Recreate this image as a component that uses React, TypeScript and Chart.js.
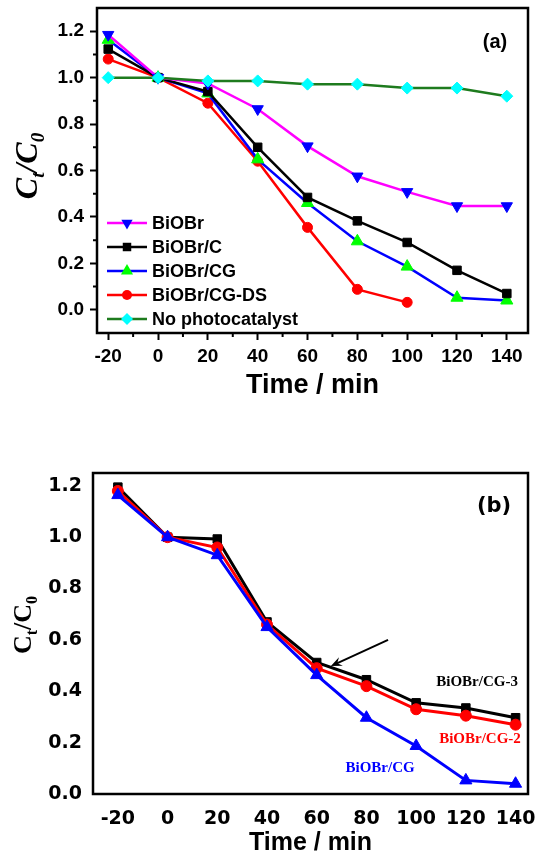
import React, { useEffect, useRef } from 'react';
import { Chart, registerables } from 'chart.js';

Chart.register(...registerables);

// ---------- Panel (a) data ----------
const timesA = [-20, 0, 20, 40, 60, 80, 100, 120, 140];
const timesDS = [-20, 0, 20, 40, 60, 80, 100];
const biobrA = [1.185, 1.0, 0.975, 0.865, 0.705, 0.575, 0.508, 0.447, 0.447];
const biobrCA = [1.123, 1.0, 0.94, 0.70, 0.484, 0.383, 0.29, 0.17, 0.07];
const biobrCGA = [1.163, 1.0, 0.932, 0.648, 0.46, 0.295, 0.186, 0.052, 0.04];
const biobrCGDSA = [1.08, 1.0, 0.89, 0.64, 0.355, 0.088, 0.032];
const noCatA = [1.0, 1.0, 0.986, 0.986, 0.972, 0.972, 0.955, 0.955, 0.92];
const labelsA = ['BiOBr', 'BiOBr/C', 'BiOBr/CG', 'BiOBr/CG-DS', 'No photocatalyst'];
const xTicksA = [-20, 0, 20, 40, 60, 80, 100, 120, 140];
const xMinorA = [-10, 10, 30, 50, 70, 90, 110, 130];
const yTicksA = [0, 0.2, 0.4, 0.6, 0.8, 1.0, 1.2];
const yMinorA = [0.1, 0.3, 0.5, 0.7, 0.9, 1.1];

// ---------- Panel (b) data ----------
const timesB = [-20, 0, 20, 40, 60, 80, 100, 120, 140];
const cg3B = [1.195, 1.0, 0.993, 0.67, 0.512, 0.445, 0.355, 0.335, 0.297];
const cg2B = [1.18, 1.0, 0.96, 0.66, 0.49, 0.42, 0.33, 0.305, 0.27];
const cgB = [1.164, 1.0, 0.93, 0.65, 0.463, 0.297, 0.187, 0.053, 0.04];
const labelsB = ['BiOBr/CG-3', 'BiOBr/CG-2', 'BiOBr/CG'];
const xTicksB = [-20, 0, 20, 40, 60, 80, 100, 120, 140];
const yTicksB = [0, 0.2, 0.4, 0.6, 0.8, 1.0, 1.2];

const SANS = '"Liberation Sans", Arial, sans-serif';
const DEJAVU = '"DejaVu Sans", sans-serif';
const SERIF = '"Liberation Serif", "Times New Roman", serif';

const pts = (xs: number[], ys: number[]) => ys.map((y, i) => ({ x: xs[i], y }));

function drawMarker(ctx: CanvasRenderingContext2D, style: string, x: number, y: number, r: number, fill: string, rot = 0) {
  ctx.save();
  ctx.fillStyle = fill;
  ctx.beginPath();
  if (style === 'circle') {
    ctx.arc(x, y, r, 0, Math.PI * 2);
  } else if (style === 'rect') {
    const s = r * Math.SQRT1_2;
    ctx.rect(x - s, y - s, 2 * s, 2 * s);
  } else if (style === 'rectRot') {
    ctx.moveTo(x - r, y);
    ctx.lineTo(x, y - r);
    ctx.lineTo(x + r, y);
    ctx.lineTo(x, y + r);
    ctx.closePath();
  } else if (style === 'triangle') {
    let a = (rot * Math.PI) / 180;
    ctx.moveTo(x + Math.sin(a) * r, y - Math.cos(a) * r);
    a += (2 * Math.PI) / 3;
    ctx.lineTo(x + Math.sin(a) * r, y - Math.cos(a) * r);
    a += (2 * Math.PI) / 3;
    ctx.lineTo(x + Math.sin(a) * r, y - Math.cos(a) * r);
    ctx.closePath();
  }
  ctx.fill();
  ctx.restore();
}

function drawSubTitle(
  ctx: CanvasRenderingContext2D,
  bx: number,
  cy: number,
  parts: { t: string; sub?: boolean }[],
  mainFont: string,
  subFont: string,
  subShift: number
) {
  ctx.save();
  ctx.translate(bx, cy);
  ctx.rotate(-Math.PI / 2);
  ctx.fillStyle = '#000';
  ctx.textBaseline = 'alphabetic';
  ctx.textAlign = 'left';
  let total = 0;
  const widths: number[] = [];
  for (const p of parts) {
    ctx.font = p.sub ? subFont : mainFont;
    const w = ctx.measureText(p.t).width;
    widths.push(w);
    total += w;
  }
  let x = -total / 2;
  parts.forEach((p, i) => {
    ctx.font = p.sub ? subFont : mainFont;
    ctx.fillText(p.t, x, p.sub ? subShift : 0);
    x += widths[i];
  });
  ctx.restore();
}

const fixY = (w: number) => (s: any) => {
  s.width = w;
  s.paddingTop = 0;
  s.paddingBottom = 0;
};
const fixX = (h: number) => (s: any) => {
  s.height = h;
  s.paddingLeft = 0;
  s.paddingRight = 0;
};

function makeChartA(canvas: HTMLCanvasElement) {
  const styles = [
    { line: '#ff00ff', marker: '#0000ff', style: 'triangle', rot: 180, r: 6.5 },
    { line: '#000000', marker: '#000000', style: 'rect', rot: 0, r: 6 },
    { line: '#0000ff', marker: '#00ff00', style: 'triangle', rot: 0, r: 7 },
    { line: '#ff0000', marker: '#ff0000', style: 'circle', rot: 0, r: 5 },
    { line: '#1e7b1e', marker: '#00ffff', style: 'rectRot', rot: 0, r: 6 },
  ];
  const series = [
    pts(timesA, biobrA),
    pts(timesA, biobrCA),
    pts(timesA, biobrCGA),
    pts(timesDS, biobrCGDSA),
    pts(timesA, noCatA),
  ];
  const orders = [1, 2, 3, 4, 0];
  const datasets = series.map((d, i) => ({
    label: labelsA[i],
    data: d,
    borderColor: styles[i].line,
    borderWidth: 2.5,
    pointStyle: styles[i].style,
    pointRotation: styles[i].rot,
    pointRadius: styles[i].r,
    pointBackgroundColor: styles[i].marker,
    pointBorderColor: styles[i].marker,
    pointBorderWidth: 1,
    tension: 0,
    order: orders[i],
    clip: false as any,
  }));

  const overlay = {
    id: 'overlayA',
    afterDraw(chart: any) {
      const { ctx, chartArea } = chart;
      const { left, top, right, bottom } = chartArea;
      const xs = chart.scales.x;
      const ys = chart.scales.y;
      ctx.save();
      // frame
      ctx.strokeStyle = '#000';
      ctx.lineWidth = 2.5;
      ctx.strokeRect(left, top, right - left, bottom - top);
      // minor ticks
      ctx.lineWidth = 2;
      ctx.beginPath();
      xMinorA.forEach((v) => {
        const px = xs.getPixelForValue(v);
        ctx.moveTo(px, bottom);
        ctx.lineTo(px, bottom + 4);
      });
      yMinorA.forEach((v) => {
        const py = ys.getPixelForValue(v);
        ctx.moveTo(left, py);
        ctx.lineTo(left - 4, py);
      });
      ctx.stroke();
      // legend
      ctx.font = `bold 18px ${SANS}`;
      ctx.textBaseline = 'middle';
      ctx.textAlign = 'left';
      labelsA.forEach((lab, i) => {
        const y = bottom - 14 - (labelsA.length - 1 - i) * 24;
        const x0 = left + 10;
        const x1 = left + 50;
        ctx.strokeStyle = styles[i].line;
        ctx.lineWidth = 2.5;
        ctx.beginPath();
        ctx.moveTo(x0, y);
        ctx.lineTo(x1, y);
        ctx.stroke();
        drawMarker(ctx, styles[i].style, (x0 + x1) / 2, y, styles[i].r, styles[i].marker, styles[i].rot);
        ctx.fillStyle = '#000';
        ctx.fillText(lab, x1 + 5, y + 1);
      });
      // panel label
      ctx.font = `bold 20px ${SANS}`;
      ctx.textAlign = 'center';
      ctx.fillStyle = '#000';
      ctx.fillText('(a)', right - 33, top + 34);
      ctx.restore();
      // y title
      drawSubTitle(
        ctx,
        37,
        166,
        [{ t: 'C' }, { t: 't', sub: true }, { t: '/' }, { t: 'C' }, { t: '0', sub: true }],
        `italic bold 32px ${SERIF}`,
        `italic bold 19px ${SERIF}`,
        7
      );
    },
  };

  return new Chart(canvas, {
    type: 'line',
    data: { datasets: datasets as any },
    options: {
      animation: false,
      responsive: false,
      devicePixelRatio: 1,
      layout: { padding: { top: 8, right: 3, left: 0, bottom: 0 } },
      plugins: { legend: { display: false }, tooltip: { enabled: false } },
      scales: {
        x: {
          type: 'linear',
          min: -24.5,
          max: 148.5,
          afterBuildTicks: (s: any) => {
            s.ticks = xTicksA.map((v) => ({ value: v }));
          },
          afterFit: fixX(87),
          grid: { drawOnChartArea: false, drawTicks: true, tickLength: 7, tickWidth: 2, tickColor: '#000' },
          border: { display: false },
          ticks: {
            color: '#000',
            padding: 5,
            font: { family: SANS, size: 19, weight: 'bold' },
            callback: (v: any) => String(v),
          },
          title: {
            display: true,
            text: 'Time / min',
            color: '#000',
            font: { family: SANS, size: 27, weight: 'bold' },
            padding: { top: 0, bottom: 18 },
          },
        },
        y: {
          type: 'linear',
          min: -0.1,
          max: 1.3,
          afterBuildTicks: (s: any) => {
            s.ticks = yTicksA.map((v) => ({ value: v }));
          },
          afterFit: fixY(97),
          grid: { drawOnChartArea: false, drawTicks: true, tickLength: 7, tickWidth: 2, tickColor: '#000' },
          border: { display: false },
          ticks: {
            color: '#000',
            padding: 6,
            font: { family: SANS, size: 19, weight: 'bold' },
            callback: (v: any) => Number(v).toFixed(1),
          },
        },
      },
    } as any,
    plugins: [overlay],
  });
}

function makeChartB(canvas: HTMLCanvasElement) {
  const styles = [
    { line: '#000000', marker: '#000000', style: 'rect', rot: 0, r: 6 },
    { line: '#ff0000', marker: '#ff0000', style: 'circle', rot: 0, r: 5.5 },
    { line: '#0000ff', marker: '#0000ff', style: 'triangle', rot: 0, r: 7 },
  ];
  const series = [pts(timesB, cg3B), pts(timesB, cg2B), pts(timesB, cgB)];
  const datasets = series.map((d, i) => ({
    label: labelsB[i],
    data: d,
    borderColor: styles[i].line,
    borderWidth: 3,
    pointStyle: styles[i].style,
    pointRadius: styles[i].r,
    pointBackgroundColor: styles[i].marker,
    pointBorderColor: styles[i].marker,
    pointBorderWidth: 1,
    tension: 0,
    order: 2 - i,
    clip: false as any,
  }));
  const annotations = [
    { text: labelsB[0], x: 124.5, y: 0.436, color: '#000000' },
    { text: labelsB[1], x: 125.7, y: 0.214, color: '#ff0000' },
    { text: labelsB[2], x: 85.5, y: 0.101, color: '#0000ff' },
  ];
  const arrow = { x0: 88.7, y0: 0.6, x1: 65.7, y1: 0.498 };

  const overlay = {
    id: 'overlayB',
    afterDraw(chart: any) {
      const { ctx, chartArea } = chart;
      const { left, top, right, bottom } = chartArea;
      const xs = chart.scales.x;
      const ys = chart.scales.y;
      ctx.save();
      ctx.strokeStyle = '#000';
      ctx.lineWidth = 2.5;
      ctx.strokeRect(left, top, right - left, bottom - top);
      // annotations
      ctx.font = `bold 15px ${SERIF}`;
      ctx.textAlign = 'center';
      ctx.textBaseline = 'middle';
      annotations.forEach((a) => {
        ctx.fillStyle = a.color;
        ctx.fillText(a.text, xs.getPixelForValue(a.x), ys.getPixelForValue(a.y));
      });
      // arrow
      const ax0 = xs.getPixelForValue(arrow.x0);
      const ay0 = ys.getPixelForValue(arrow.y0);
      const ax1 = xs.getPixelForValue(arrow.x1);
      const ay1 = ys.getPixelForValue(arrow.y1);
      const ang = Math.atan2(ay1 - ay0, ax1 - ax0);
      const hl = 12;
      ctx.strokeStyle = '#000';
      ctx.fillStyle = '#000';
      ctx.lineWidth = 2;
      ctx.beginPath();
      ctx.moveTo(ax0, ay0);
      ctx.lineTo(ax1 - Math.cos(ang) * 6, ay1 - Math.sin(ang) * 6);
      ctx.stroke();
      ctx.beginPath();
      ctx.moveTo(ax1, ay1);
      ctx.lineTo(ax1 - Math.cos(ang - 0.4) * hl, ay1 - Math.sin(ang - 0.4) * hl);
      ctx.lineTo(ax1 - Math.cos(ang) * 7, ay1 - Math.sin(ang) * 7);
      ctx.lineTo(ax1 - Math.cos(ang + 0.4) * hl, ay1 - Math.sin(ang + 0.4) * hl);
      ctx.closePath();
      ctx.fill();
      // panel label
      ctx.font = `bold 21px ${DEJAVU}`;
      ctx.fillStyle = '#000';
      ctx.textAlign = 'center';
      ctx.fillText('(b)', right - 34, top + 34);
      ctx.restore();
      drawSubTitle(
        ctx,
        31,
        205,
        [{ t: 'C' }, { t: 't', sub: true }, { t: '/' }, { t: 'C' }, { t: '0', sub: true }],
        `bold 26px ${SERIF}`,
        `bold 16px ${SERIF}`,
        6
      );
    },
  };

  return new Chart(canvas, {
    type: 'line',
    data: { datasets: datasets as any },
    options: {
      animation: false,
      responsive: false,
      devicePixelRatio: 1,
      layout: { padding: { top: 53, right: 8, left: 0, bottom: 0 } },
      plugins: { legend: { display: false }, tooltip: { enabled: false } },
      scales: {
        x: {
          type: 'linear',
          min: -30,
          max: 145,
          afterBuildTicks: (s: any) => {
            s.ticks = xTicksB.map((v) => ({ value: v }));
          },
          afterFit: fixX(64),
          grid: { display: false, drawTicks: false },
          border: { display: false },
          ticks: {
            color: '#000',
            padding: 14,
            font: { family: DEJAVU, size: 19, weight: 'bold' },
            callback: (v: any) => String(v),
          },
          title: {
            display: true,
            text: 'Time / min',
            color: '#000',
            font: { family: SANS, size: 25, weight: 'bold' },
            padding: { top: 0, bottom: 0 },
          },
        },
        y: {
          type: 'linear',
          min: 0,
          max: 1.25,
          afterBuildTicks: (s: any) => {
            s.ticks = yTicksB.map((v) => ({ value: v }));
          },
          afterFit: fixY(93),
          grid: { display: false, drawTicks: false },
          border: { display: false },
          ticks: {
            color: '#000',
            padding: 11,
            font: { family: DEJAVU, size: 19, weight: 'bold' },
            callback: (v: any) => Number(v).toFixed(1),
          },
        },
      },
    } as any,
    plugins: [overlay],
  });
}

export default function App() {
  const refA = useRef<HTMLCanvasElement>(null);
  const refB = useRef<HTMLCanvasElement>(null);
  useEffect(() => {
    const a = makeChartA(refA.current!);
    const b = makeChartB(refB.current!);
    return () => {
      a.destroy();
      b.destroy();
    };
  }, []);
  return (
    <div style={{ position: 'absolute', left: 0, top: 0, width: 536, height: 858, background: '#fff' }}>
      <canvas ref={refA} width={536} height={420} style={{ position: 'absolute', left: 0, top: 0, width: 536, height: 420 }} />
      <canvas ref={refB} width={536} height={438} style={{ position: 'absolute', left: 0, top: 420, width: 536, height: 438 }} />
    </div>
  );
}
